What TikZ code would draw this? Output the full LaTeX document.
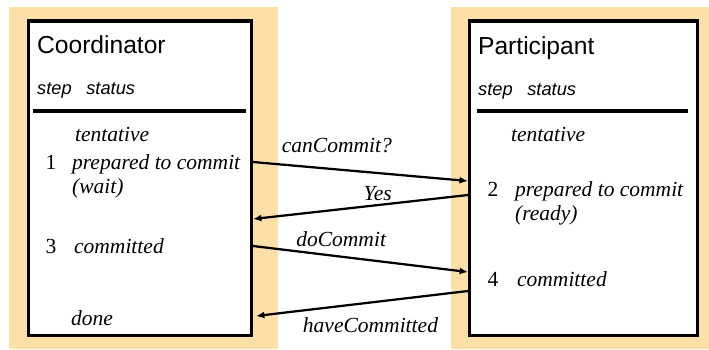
\documentclass[tikz,border=0pt]{standalone}
\usepackage{fontspec}
\setmainfont{Liberation Serif}
\newfontfamily\headfont{Liberation Sans}
\usetikzlibrary{arrows.meta}
\definecolor{panel}{RGB}{253,224,168}

\tikzset{
	title/.style={anchor=base west, inner sep=0pt, font=\headfont\fontsize{17.5}{20}\selectfont},
	cols/.style={anchor=base west, inner sep=0pt, font=\headfont\itshape\fontsize{13}{15}\selectfont},
	state/.style={anchor=base west, inner sep=0pt, font=\fontsize{15.3}{18}\selectfont\itshape},
	num/.style={anchor=base, inner sep=0pt, font=\fontsize{15.3}{18}\selectfont},
	msg/.style={inner sep=1pt, font=\fontsize{15.3}{18}\selectfont\itshape},
	box/.style={draw, line width=2.8pt, fill=white}
}

\begin{document}
\begin{tikzpicture}[x=0.025cm, y=-0.025cm, >={Latex[length=6pt,width=5pt]}, line width=1.6pt]
	\useasboundingbox (0,0) rectangle (709,349);
	% panels
	\fill[panel] (9,7) rectangle (278,349);
	\fill[panel] (451,7) rectangle (709,349);
	\draw[box] (28.5,21) rectangle (251.5,335.5);
	\draw[box] (469.5,21) rectangle (697.5,335.5);
	\draw[line width=2.8pt] (33,111) -- (246,111);
	\draw[line width=2.8pt] (477,111) -- (688,111);

	% coordinator
	\node[title] (coord) at (36,53.5) {Coordinator};
	\node[cols] (chead) at (36,94) {step\hspace{0.8em}status};
	\node[state] (ctent) at (74,141.5) {tentative};
	\node[num] (cone) at (51,169) {1};
	\node[state] (cprep) at (71,169) {prepared to commit};
	\node[state] (cwait) at (71,193.5) {(wait)};
	\node[num] (cthree) at (51,253) {3};
	\node[state] (ccomm) at (73,253) {committed};
	\node[state] (cdone) at (70,325) {done};

	% participant
	\node[title] (part) at (477,54) {Participant};
	\node[cols] (phead) at (477,95) {step\hspace{0.8em}status};
	\node[state] (ptent) at (510,141) {tentative};
	\node[num] (ptwo) at (493,196.5) {2};
	\node[state] (pprep) at (514,196.5) {prepared to commit};
	\node[state] (pready) at (514,220) {(ready)};
	\node[num] (pfour) at (493,286) {4};
	\node[state] (pcomm) at (516,286) {committed};

	% messages
	\coordinate (c1) at (253,162);
	\coordinate (p1) at (468,181);
	\coordinate (p2) at (468,195);
	\coordinate (c2) at (253,219);
	\coordinate (c3) at (253,246);
	\coordinate (p3) at (468,272);
	\coordinate (p4) at (468,291);
	\coordinate (c4) at (256,316);
	\draw[->] (c1) to node[msg, pos=0.39, above=10pt] {canCommit?} (p1);
	\draw[->] (p2) to node[msg, pos=0.42, above=1pt] {Yes} (c2);
	\draw[->] (c3) to node[msg, pos=0.41, above=5pt] {doCommit} (p3);
	\draw[->] (p4) to node[msg, pos=0.46, below=9pt] {haveCommitted} (c4);
\end{tikzpicture}
\end{document}
